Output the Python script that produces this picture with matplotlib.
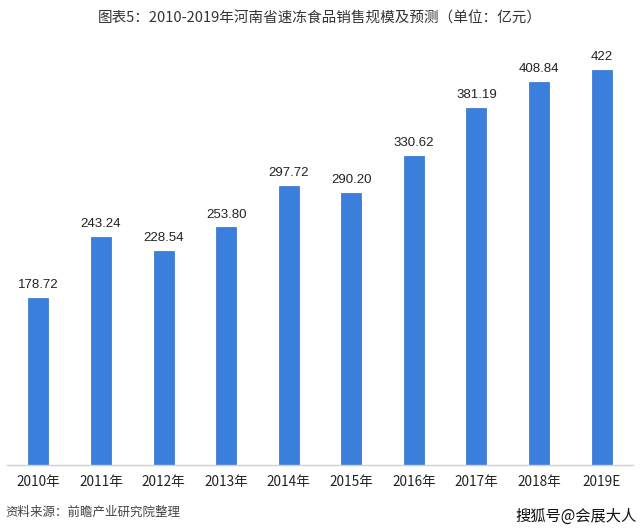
import matplotlib
matplotlib.use("Agg")
import matplotlib.pyplot as plt

plt.rcParams['font.family'] = ['Noto Sans CJK SC', 'DejaVu Sans']

years = ['2010年', '2011年', '2012年', '2013年', '2014年', '2015年',
         '2016年', '2017年', '2018年', '2019E']
sales = [178.72, 243.24, 228.54, 253.80, 297.72, 290.20,
         330.62, 381.19, 408.84, 422]
labels = ['178.72', '243.24', '228.54', '253.80', '297.72', '290.20',
          '330.62', '381.19', '408.84', '422']

fig = plt.figure(figsize=(6.4, 5.32), dpi=100)
ax = fig.add_axes([0.011, 0.126, 0.978, 0.774])

x = range(len(years))
bars = ax.bar(x, sales, width=0.32, color='#3b7fdd', edgecolor='#2f6fcc', linewidth=0.5)

for xi, v, lab in zip(x, sales, labels):
    ax.annotate(lab, (xi, v), xytext=(0, 5), textcoords='offset points',
                ha='center', va='bottom', fontsize=9.5, color='#222222',
                family=['Liberation Sans', 'DejaVu Sans'])

ax.set_xlim(-0.5, 9.5)
ax.set_ylim(0, 440)
ax.set_xticks(list(x))
ax.set_xticklabels(years, fontsize=9.8, color='#222222')
ax.tick_params(axis='x', length=0, pad=7)
ax.set_yticks([])
for s in ['top', 'right', 'left']:
    ax.spines[s].set_visible(False)
ax.spines['bottom'].set_color('#d0d0d0')
ax.spines['bottom'].set_linewidth(1)

fig.text(0.5, 0.966, '图表5：2010-2019年河南省速冻食品销售规模及预测（单位：亿元）',
         ha='center', va='center', fontsize=10.5, color='#333333')
fig.text(0.008, 0.037, '资料来源：前瞻产业研究院整理', ha='left', va='center',
         fontsize=9, color='#444444', style='italic')
fig.text(0.995, 0.030, '搜狐号@会展大人', ha='right', va='center',
         fontsize=11, color='#111111')

fig.savefig('out.png', dpi=100, facecolor='white')
